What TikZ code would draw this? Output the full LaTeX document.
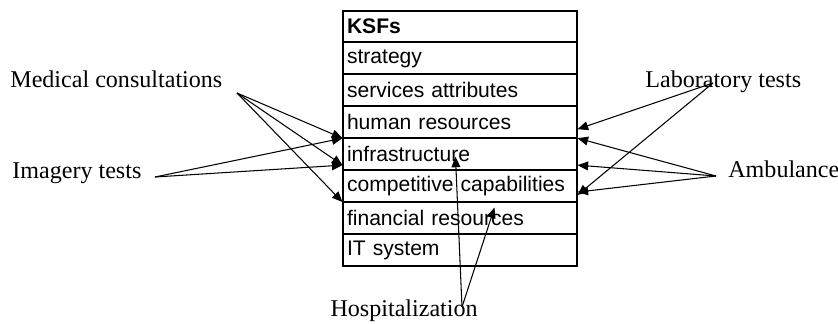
\documentclass[tikz,border=0pt]{standalone}
\usepackage{fontspec}
\setmainfont{Liberation Serif}
\setsansfont{Liberation Sans}
\usetikzlibrary{positioning,arrows.meta}

\begin{document}
\begin{tikzpicture}
        % Define styles
        \tikzset{
            ksf/.style={rectangle, draw, line width=0.6pt, minimum width=4.68cm, minimum height=0.6175cm,
                text width=4.52cm, inner xsep=0.08cm, inner ysep=0pt, align=left,
                font=\sffamily\fontsize{12}{14}\selectfont},
            service/.style={inner sep=0pt, font=\fontsize{13.7}{16}\selectfont},
            arrow/.style={->,>={Triangle[length=6pt,width=5pt]}, line width=0.6pt}
        }
        \useasboundingbox (0,0) rectangle (16.76,-6.46);

        % KSF table
        \node[ksf] (ksf_title) at (9.2,-0.529) {\textbf{KSFs}};
        \node[ksf, below=0pt of ksf_title] (ksf_strategy) {strategy};
        \node[ksf, below=0pt of ksf_strategy] (ksf_services) {services attributes};
        \node[ksf, below=0pt of ksf_services] (ksf_human) {human resources};
        \node[ksf, below=0pt of ksf_human] (ksf_infra) {infrastructure};
        \node[ksf, below=0pt of ksf_infra] (ksf_comp) {competitive capabilities};
        \node[ksf, below=0pt of ksf_comp] (ksf_fin) {financial resources};
        \node[ksf, below=0pt of ksf_fin] (ksf_it) {IT system};
        \draw[line width=1pt] (ksf_title.north west) rectangle (ksf_it.south east);

        % Services
        \node[service, anchor=base west] (med) at (0.2,-1.74) {Medical consultations};
        \node[service, anchor=base west] (img) at (0.24,-3.56) {Imagery tests};
        \node[service, anchor=base west] (lab) at (12.9,-1.74) {Laboratory tests};
        \node[service, anchor=base west] (amb) at (14.56,-3.54) {Ambulance};
        \node[service, anchor=base east] (hosp) at (9.56,-6.32) {Hospitalization};

        \coordinate (med_src) at (4.74,-1.86);
        \coordinate (img_src) at (3.1,-3.54);
        \coordinate (lab_src) at (14.26,-1.66);
        \coordinate (amb_src) at (14.32,-3.52);
        \coordinate (hosp_src) at (9.24,-6.14);

        % Arrows
        \draw[arrow] (med_src) -- (ksf_human.south west);
        \draw[arrow] (med_src) -- ([yshift=0.1cm]ksf_infra.south west);
        \draw[arrow] (med_src) -- (ksf_comp.south west);
        \draw[arrow] (img_src) -- (ksf_human.south west);
        \draw[arrow] (img_src) -- ([yshift=0.1cm]ksf_infra.south west);

        \draw[arrow] (lab_src) -- ([yshift=0.18cm]ksf_human.south east);
        \draw[arrow] (lab_src) -- ([yshift=0.14cm]ksf_comp.south east);
        \draw[arrow] (amb_src) -- (ksf_human.south east);
        \draw[arrow] (amb_src) -- ([yshift=0.1cm]ksf_infra.south east);
        \draw[arrow] (amb_src) -- ([yshift=0.2cm]ksf_comp.south east);

        \draw[arrow] (hosp_src) -- ([xshift=2.26cm,yshift=-0.05cm]ksf_infra.west);
        \draw[arrow] (hosp_src) -- ([xshift=3.04cm,yshift=0.21cm]ksf_fin.west);
    \end{tikzpicture}
\end{document}
